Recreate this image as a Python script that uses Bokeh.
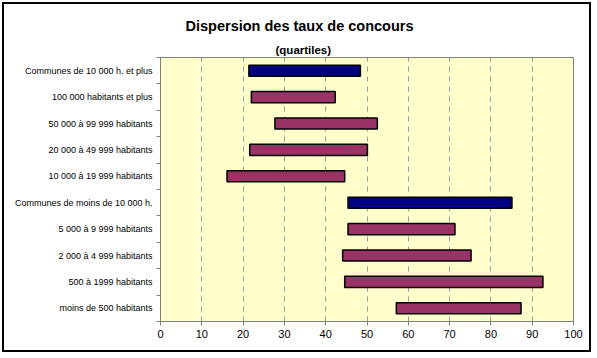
from bokeh.plotting import figure
from bokeh.models import Range1d, FixedTicker, Title, ColumnDataSource
from bokeh.embed import file_html
from bokeh.resources import INLINE

categories = [
    "Communes de 10 000 h. et plus",
    "100 000 habitants et plus",
    "50 000 à 99 999 habitants",
    "20 000 à 49 999 habitants",
    "10 000 à 19 999 habitants",
    "Communes de moins de 10 000 h.",
    "5 000 à 9 999 habitants",
    "2 000 à 4 999 habitants",
    "500 à 1999 habitants",
    "moins de 500 habitants",
]
q1 = [21.4, 22.0, 27.7, 21.6, 16.1, 45.4, 45.4, 44.1, 44.6, 57.1]
q3 = [48.4, 42.3, 52.5, 50.1, 44.6, 85.1, 71.3, 75.2, 92.6, 87.3]
is_total = [True, False, False, False, False, True, False, False, False, False]
x_ticks = [0, 10, 20, 30, 40, 50, 60, 70, 80, 90, 100]

n = len(categories)
ypos = [n - 0.5 - i for i in range(n)]
colors = ["#000080" if t else "#993366" for t in is_total]

src = ColumnDataSource(dict(y=ypos, left=q1, right=q3, color=colors, cat=categories))

W, H = 589, 350
p = figure(width=W, height=H, output_backend="svg", toolbar_location=None,
           x_range=Range1d(0, 100), y_range=Range1d(0, n),
           min_border_left=156, min_border_right=20, min_border_top=53, min_border_bottom=33)
p.styles = {"border": "2px solid #000000", "margin": "2px 0px 0px 2px"}
p.background_fill_color = "#FFFFCC"
p.border_fill_color = "#FFFFFF"
p.outline_line_color = "#808080"
p.outline_line_width = 1

p.hbar(y="y", left="left", right="right", height=0.42, fill_color="color",
       line_color="#000000", line_width=1.5, source=src)

# x axis
p.xaxis.ticker = FixedTicker(ticks=x_ticks, minor_ticks=[])
p.xaxis.axis_line_color = "#808080"
p.xaxis.major_tick_line_color = "#808080"
p.xaxis.major_tick_out = 4
p.xaxis.major_tick_in = 0
p.xaxis.minor_tick_line_color = None
p.xaxis.major_label_text_font = "Liberation Sans"
p.xaxis.major_label_text_font_size = "11px"
p.xaxis.major_label_text_color = "#000000"
p.xaxis.major_label_standoff = 4

# y axis
p.yaxis.ticker = FixedTicker(ticks=ypos, minor_ticks=list(range(n + 1)))
p.yaxis.major_label_overrides = {y: c for y, c in zip(ypos, categories)}
p.yaxis.axis_line_color = "#808080"
p.yaxis.major_tick_line_color = None
p.yaxis.major_tick_out = 0
p.yaxis.major_tick_in = 0
p.yaxis.minor_tick_line_color = "#808080"
p.yaxis.minor_tick_out = 4
p.yaxis.minor_tick_in = 0
p.yaxis.major_label_text_font = "Liberation Sans"
p.yaxis.major_label_text_font_size = "9px"
p.yaxis.major_label_text_color = "#000000"
p.yaxis.major_label_standoff = 4

p.ygrid.grid_line_color = None
p.xgrid.ticker = FixedTicker(ticks=x_ticks[1:-1])
p.xgrid.grid_line_color = "#999999"
p.xgrid.grid_line_dash = "5 5"
p.xgrid.grid_line_width = 1

subtitle = Title(text="(quartiles)", align="left", offset=115, vertical_align="middle",
                 text_font="Liberation Sans", text_font_style="bold",
                 text_font_size="11.5px", text_color="#000000", standoff=1)
title = Title(text="Dispersion des taux de concours", align="left", offset=25,
              vertical_align="middle", text_font="Liberation Sans", text_font_style="bold",
              text_font_size="14.5px", text_color="#000000", standoff=15)
p.add_layout(subtitle, "above")
p.add_layout(title, "above")

open("out.html", "w").write(file_html(p, INLINE))
